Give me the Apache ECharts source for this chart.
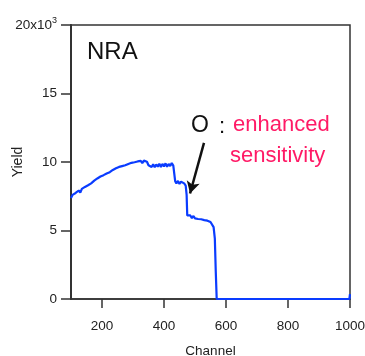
<!DOCTYPE html>
<html>
<head>
<meta charset="utf-8">
<script src="https://cdn.jsdelivr.net/npm/echarts@6/dist/echarts.min.js"></script>
<style>
  html, body { margin: 0; padding: 0; background: #fff; }
  #chart { width: 365px; height: 356px; }
</style>
</head>
<body>
<div id="chart"></div>
<script>
// channel numbers and yield (x10^3)
const channels = [
  100, 105, 110, 115, 120, 125, 130, 135, 140, 145,
  150, 155, 160, 165, 170, 175, 180, 185, 190, 195,
  200, 205, 210, 215, 220, 225, 230, 235, 240, 245,
  250, 255, 260, 265, 270, 275, 280, 285, 290, 295,
  300, 305, 310, 315, 320, 325, 330, 335, 340, 345,
  350, 355, 360, 365, 370, 375, 380, 385, 390, 395,
  400, 405, 410, 415, 420, 425, 430, 433, 436, 440,
  445, 450, 455, 460, 465, 470, 473, 475, 480, 485,
  490, 495, 500, 505, 510, 515, 520, 525, 530, 535,
  540, 545, 550, 555, 560, 564, 567, 570, 580, 700,
  850, 998, 1000
]
const yieldK = [
  7.38, 7.60, 7.46, 7.74, 7.64, 7.92, 7.76, 8.04, 7.94, 8.18,
  8.04, 8.30, 8.24, 8.44, 8.40, 8.64, 8.54, 8.80, 8.66, 8.94,
  8.84, 9.04, 8.98, 9.16, 9.12, 9.26, 9.22, 9.42, 9.32, 9.54,
  9.40, 9.64, 9.54, 9.70, 9.62, 9.76, 9.70, 9.86, 9.72, 9.94,
  9.80, 9.98, 9.84, 10.04, 9.90, 10.08, 9.92, 10.10, 9.96, 10.02,
  9.76, 9.82, 9.64, 9.84, 9.62, 9.82, 9.66, 9.88, 9.64, 9.86,
  9.68, 9.90, 9.66, 9.86, 9.70, 9.92, 9.74, 9.60, 8.60, 8.44,
  8.62, 8.40, 8.56, 8.42, 8.44, 8.28, 7.60, 6.10, 5.96, 6.10,
  5.90, 6.06, 5.88, 6.02, 5.84, 5.96, 5.82, 5.94, 5.76, 5.88,
  5.72, 5.74, 5.62, 5.50, 5.25, 4.40, 2.00, 0, 0, 0,
  0, 0, 0.35
]
const xTicks = [200, 400, 600, 800, 1000]
// arrow: tail and head in data coordinates
const arrowFrom = [529, 11.4]
const arrowTo = [484, 7.7]

const axisColor = '#333'
const font = 'Liberation Sans, Arial, sans-serif'

const chart = echarts.init(document.getElementById('chart'))

chart.setOption({
  animation: false,
  grid: {
    left: 71,
    right: 15,
    top: 25,
    bottom: 57,
    containLabel: false,
    outerBoundsMode: 'none',
    show: true,
    borderColor: axisColor,
    borderWidth: 1.5,
    backgroundColor: 'transparent'
  },
  xAxis: {
    type: 'value',
    min: 100,
    max: 1000,
    name: 'Channel',
    nameLocation: 'middle',
    nameGap: 45,
    nameMoveOverlap: false,
    nameTextStyle: { fontFamily: font, fontSize: 13.5, color: '#222' },
    splitLine: { show: false },
    axisLine: { show: true, lineStyle: { color: axisColor, width: 1.5 } },
    axisTick: { show: true, length: 9, customValues: xTicks, lineStyle: { color: axisColor, width: 1.5 } },
    axisLabel: {
      customValues: xTicks,
      margin: 14,
      padding: [6, 0, 0, 0],
      fontFamily: font,
      fontSize: 13.5,
      color: '#222',
      formatter: (v) => String(v)
    }
  },
  yAxis: {
    type: 'value',
    min: 0,
    max: 20,
    interval: 5,
    name: 'Yield',
    nameLocation: 'middle',
    nameGap: 46,
    nameMoveOverlap: false,
    nameTextStyle: { fontFamily: font, fontSize: 14, color: '#222' },
    splitLine: { show: false },
    axisLine: { show: true, lineStyle: { color: axisColor, width: 2 } },
    axisTick: { show: true, length: 10, lineStyle: { color: axisColor, width: 1.5 } },
    axisLabel: {
      margin: 14,
      fontFamily: font,
      fontSize: 13.5,
      color: '#222',
      formatter: (v) => v === 20 ? '{a|20x10}{s|3}' : String(v),
      rich: {
        a: { fontFamily: font, fontSize: 13.5, color: '#222' },
        s: { fontFamily: font, fontSize: 9, color: '#222', padding: [0, 0, 8, 0] }
      }
    }
  },
  series: [
    {
      type: 'line',
      data: channels.map((c, i) => [c, yieldK[i]]),
      symbol: 'none',
      lineStyle: { color: '#0a3cff', width: 2.2 },
      z: 3,
      markLine: {
        silent: true,
        symbol: ['none', 'arrow'],
        symbolSize: [10, 12],
        label: { show: false },
        lineStyle: { color: '#111', width: 2.5, type: 'solid' },
        data: [[{ coord: arrowFrom }, { coord: arrowTo }]]
      }
    }
  ],
  graphic: [
    {
      type: 'text',
      left: 87,
      top: 40,
      style: { text: 'NRA', font: '24px ' + font, fill: '#111' }
    },
    {
      type: 'text',
      left: 191,
      top: 114,
      style: { text: 'O', font: '23px ' + font, fill: '#111' }
    },
    {
      type: 'text',
      left: 219,
      top: 116,
      style: { text: ':', font: '22px ' + font, fill: '#111' }
    },
    {
      type: 'text',
      left: 233,
      top: 114,
      style: { text: 'enhanced', font: '22px ' + font, fill: '#ff1a66' }
    },
    {
      type: 'text',
      left: 230,
      top: 145,
      style: { text: 'sensitivity', font: '22px ' + font, fill: '#ff1a66' }
    }
  ]
})
</script>
</body>
</html>
